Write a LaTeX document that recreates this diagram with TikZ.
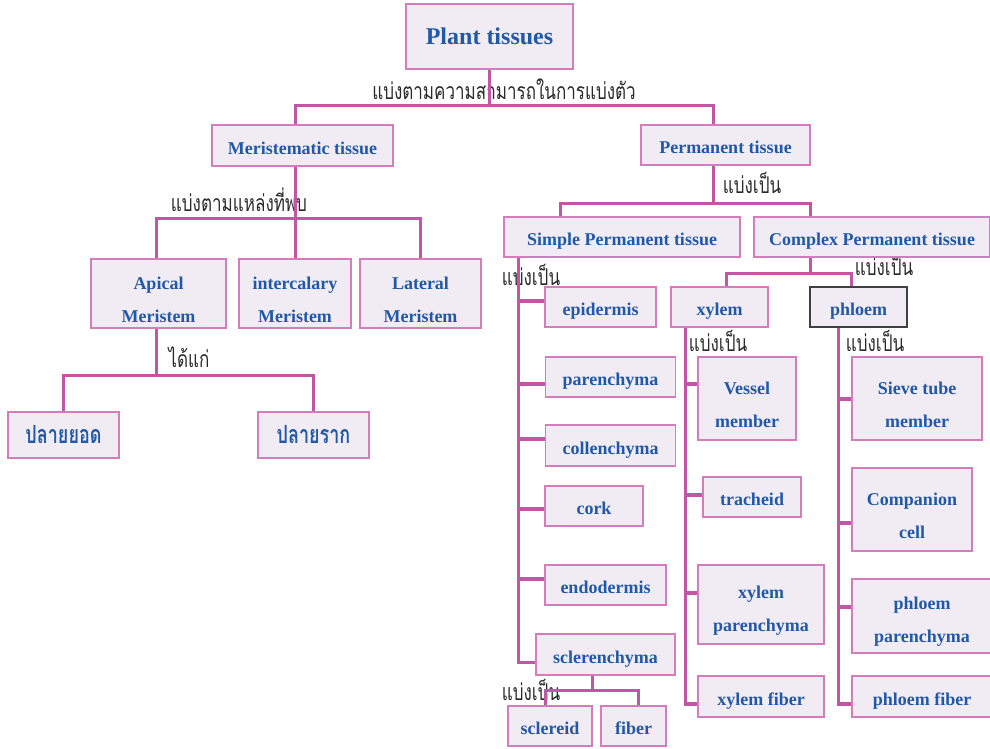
\documentclass[tikz,border=0pt]{standalone}
\usepackage{fontspec}
\usepackage{graphicx}
\setmainfont{Liberation Serif}
\newfontfamily\thai[Script=Thai]{Loma}
\definecolor{boxfill}{HTML}{F1EBF4}
\definecolor{boxline}{HTML}{D47CBC}
\definecolor{conncol}{HTML}{C256A4}
\definecolor{txtblue}{HTML}{2159A8}
\definecolor{lblcol}{HTML}{2A2A2A}
\pgfdeclarelayer{lab}
\pgfdeclarelayer{bg}
\pgfsetlayers{lab,bg,main}
\tikzset{
  box/.style={draw=boxline, fill=boxfill, line width=1.3pt, inner sep=0pt, align=center,
    text=txtblue, font=\bfseries\fontsize{18}{33}\selectfont},
  one/.style={text height=17pt, text depth=0pt},
  conn/.style={draw=conncol, line width=3pt},
  stub/.style={draw=conncol, line width=4pt},
  lbl/.style={inner sep=0pt, font=\thai\fontsize{23}{26}\selectfont, text=lblcol}
}
\newcommand\thl[1]{\scalebox{0.74}[1]{#1}}
\newcommand\thb[1]{\scalebox{0.72}[1]{#1}}
\newcommand\dn[1]{\raisebox{-6pt}[\height][\depth]{#1}}
\newcommand\mybranch[3]{\draw[stub] ([yshift=#3]#2.west) coordinate (tmp) -- (tmp -| #1);}
\begin{document}
\begin{tikzpicture}[x=1pt,y=-1pt]
\useasboundingbox (0,0) rectangle (990,748);
% boxes
\node[box, minimum width=167, minimum height=65, font=\bfseries\fontsize{24}{26}\selectfont] (plant) at (489.5,36.5) {Plant tissues};
\node[box, one, minimum width=181, minimum height=41] (mer) at (302.5,145.5) {Meristematic tissue};
\node[box, one, minimum width=169, minimum height=40] (perm) at (725.5,145) {Permanent tissue};
\node[box, minimum width=135, minimum height=69] (apical) at (158.5,293.5) {\dn{Apical}\\\dn{Meristem}};
\node[box, minimum width=112, minimum height=69] (inter) at (295,293.5) {\dn{intercalary}\\\dn{Meristem}};
\node[box, minimum width=121, minimum height=69] (lateral) at (420.5,293.5) {\dn{Lateral}\\\dn{Meristem}};
\node[box, minimum width=111, minimum height=46, font=\thai\bfseries\fontsize{25}{28}\selectfont] (yod) at (63.5,435) {\thb{ปลายยอด}};
\node[box, minimum width=111, minimum height=46, font=\thai\bfseries\fontsize{25}{28}\selectfont] (rak) at (313.5,435) {\thb{ปลายราก}};
\node[box, one, minimum width=236, minimum height=40] (simple) at (622,237) {Simple Permanent tissue};
\node[box, one, minimum width=236, minimum height=40] (complex) at (872,237) {Complex Permanent tissue};
\node[box, one, minimum width=111, minimum height=40] (epi) at (600.5,307) {epidermis};
\node[box, one, minimum width=130, minimum height=40] (par) at (610.5,377) {parenchyma};
\node[box, one, minimum width=130, minimum height=41] (col) at (610.5,445.5) {collenchyma};
\node[box, one, minimum width=98, minimum height=40] (cork) at (594,506) {cork};
\node[box, one, minimum width=121, minimum height=40] (endo) at (605.5,585) {endodermis};
\node[box, one, minimum width=139, minimum height=41] (scl) at (605.5,654.5) {sclerenchyma};
\node[box, one, minimum width=84, minimum height=40] (sclereid) at (550,726) {sclereid};
\node[box, one, minimum width=65, minimum height=40] (fiber) at (633.5,726) {fiber};
\node[box, one, minimum width=97, minimum height=40] (xylem) at (719.5,307) {xylem};
\node[box, one, draw=black!75, minimum width=97, minimum height=40] (phloem) at (858.5,307) {phloem};
\node[box, minimum width=98, minimum height=83] (vessel) at (747,398.5) {\dn{Vessel}\\\dn{member}};
\node[box, one, minimum width=98, minimum height=40] (trach) at (752,497) {tracheid};
\node[box, minimum width=126, minimum height=79] (xpar) at (761,604.5) {\dn{xylem}\\\dn{parenchyma}};
\node[box, one, minimum width=126, minimum height=41] (xfib) at (761,696.5) {xylem fiber};
\node[box, minimum width=130, minimum height=83] (sieve) at (917,398.5) {\dn{Sieve tube}\\\dn{member}};
\node[box, minimum width=120, minimum height=83] (comp) at (912,509.5) {\dn{Companion}\\\dn{cell}};
\node[box, minimum width=140, minimum height=74] (ppar) at (922,616) {\dn{phloem}\\\dn{parenchyma}};
\node[box, one, minimum width=140, minimum height=41] (pfib) at (922,696.5) {phloem fiber};
% labels
\begin{pgfonlayer}{lab}
\node[lbl] (l1) at (504,89) {\thl{แบ่งตามความสามารถในการแบ่งตัว}};
\node[lbl] (l2) at (239,200) {\thl{แบ่งตามแหล่งที่พบ}};
\node[lbl] (l3) at (189,357) {\thl{ได้แก่}};
\node[lbl] (l4) at (752,183) {\thl{แบ่งเป็น}};
\node[lbl] (l5) at (531,275) {\thl{แบ่งเป็น}};
\node[lbl] (l6) at (884,265) {\thl{แบ่งเป็น}};
\node[lbl] (l7) at (718,341) {\thl{แบ่งเป็น}};
\node[lbl] (l8) at (875,341) {\thl{แบ่งเป็น}};
\node[lbl] (l9) at (531,690) {\thl{แบ่งเป็น}};
\end{pgfonlayer}
% connectors
\begin{pgfonlayer}{bg}
\draw[conn] (plant.south) -- ++(0,36) coordinate (j1);
\draw[conn] ([xshift=-7.5]mer.north) |- (j1);
\draw[conn] ([xshift=-12.5]perm.north) |- (j1);
\draw[conn] ([xshift=-7.5]mer.south) -- ++(0,52) coordinate (j2);
\draw[conn] ([xshift=-2.5]apical.north) |- (j2);
\draw[conn] (inter.north) -- (j2);
\draw[conn] (lateral.north) |- (j2);
\draw[conn] ([xshift=-2.5]apical.south) -- ++(0,47) coordinate (j3);
\draw[conn] (yod.north) |- (j3);
\draw[conn] (rak.north) |- (j3);
\draw[conn] ([xshift=-12.5]perm.south) -- ++(0,38) coordinate (j4);
\draw[conn] ([xshift=-62]simple.north) |- (j4);
\draw[conn] ([xshift=-62]complex.north) |- (j4);
\draw[conn] ([xshift=-62]complex.south) -- ++(0,16) coordinate (j5);
\draw[conn] ([xshift=7]xylem.north) |- (j5);
\draw[conn] ([xshift=-7.5]phloem.north) |- (j5);
% simple trunk
\coordinate (st) at ([xshift=-104]simple.south);
\draw[conn] (st) |- ([yshift=-7.5]scl.west);
\mybranch{st}{epi}{6}
\mybranch{st}{par}{-7}
\mybranch{st}{col}{6.5}
\mybranch{st}{cork}{-3}
\mybranch{st}{endo}{6}
\draw[conn] ([xshift=-13.5]scl.south) -- ++(0,15) coordinate (j6);
\draw[conn] ([xshift=-5]sclereid.north) |- (j6);
\draw[conn] ([xshift=4.5]fiber.north) |- (j6);
% xylem trunk
\coordinate (xv) at ([xshift=-34.5]xylem.south);
\draw[conn] (xv) |- ([yshift=-7.5]xfib.west);
\mybranch{xv}{vessel}{14.5}
\mybranch{xv}{trach}{2}
\mybranch{xv}{xpar}{11.5}
\mybranch{xv}{xfib}{-7.5}
% phloem trunk
\coordinate (pv) at ([xshift=-20.5]phloem.south);
\draw[conn] (pv) |- ([yshift=-7.5]pfib.west);
\mybranch{pv}{sieve}{0}
\mybranch{pv}{comp}{-13.5}
\mybranch{pv}{ppar}{9}
\mybranch{pv}{pfib}{-7.5}
\end{pgfonlayer}
\end{tikzpicture}
\end{document}
